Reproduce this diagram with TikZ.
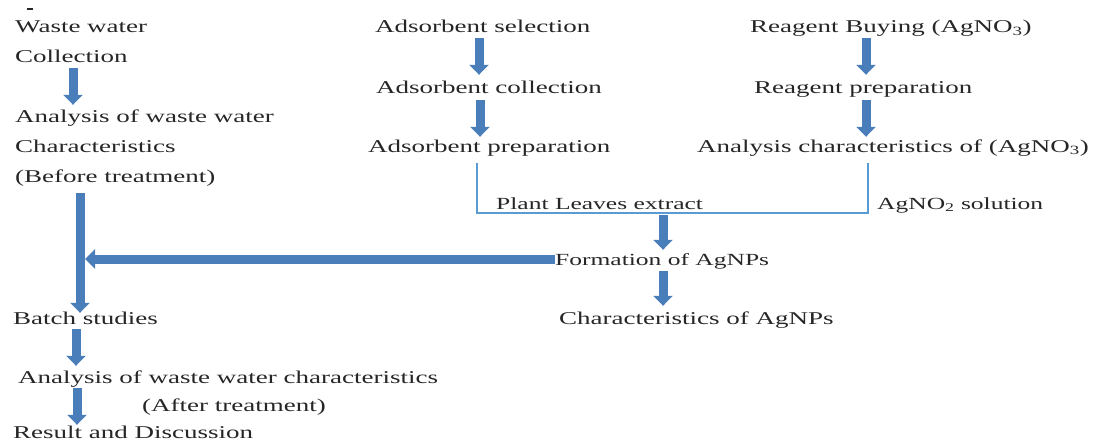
\documentclass[tikz,border=0pt]{standalone}
\usepackage{fontspec}
\setmainfont[FakeStretch=1.5]{Liberation Serif}
\usetikzlibrary{arrows.meta}
\definecolor{arrowblue}{HTML}{4A7EBB}
\definecolor{lineblue}{HTML}{5B9BD5}
\definecolor{txtgray}{HTML}{262626}
\begin{document}
\begin{tikzpicture}[x=1pt,y=-1pt,
  txt/.style={anchor=base west, inner sep=0pt, text=txtgray, font=\fontsize{18}{20}\selectfont, text height=13pt, text depth=4pt},
  lbl/.style={txt, font=\fontsize{17}{19}\selectfont},
  bigarrow/.style={arrowblue, line width=9pt, -{Triangle[width=19pt,length=10pt]}},
  thinline/.style={lineblue, line width=1.8pt}]
\useasboundingbox (0,0) rectangle (1105,441);
\draw[line width=1.5pt, txtgray] (27,9) -- (33,9);
% left column
\node[txt] (ww)   at (15,33)  {Waste water};
\node[txt] (coll) at (15,63)  {Collection};
\node[txt] (ana1) at (15,123) {Analysis of waste water};
\node[txt] (chr)  at (15,152) {Characteristics};
\node[txt] (bef)  at (15,182) {(Before treatment)};
\node[txt] (batch) at (13,324) {Batch studies};
\node[txt] (ana2) at (18,383) {Analysis of waste water characteristics};
\node[txt] (aft)  at (142,411) {(After treatment)};
\node[txt] (res)  at (13,438) {Result and Discussion};
% middle column
\node[txt] (sel)  at (375,33)  {Adsorbent selection};
\node[txt] (acol) at (376,94)  {Adsorbent collection};
\node[txt] (prep) at (368,152) {Adsorbent preparation};
\node[lbl] (plant) at (496,209) {Plant Leaves extract};
\node[lbl] (form) at (555,265) {Formation of AgNPs};
\node[txt] (char) at (559,324) {Characteristics of AgNPs};
% right column
\node[txt] (buy)  at (750,33)  {Reagent Buying (AgNO\textsubscript{3})};
\node[txt] (rprep) at (754,94) {Reagent preparation};
\node[txt] (anaAg) at (697,152) {Analysis characteristics of (AgNO\textsubscript{3})};
\node[lbl] (sol)  at (877,209) {AgNO\textsubscript{2} solution};
% coordinates
\coordinate (merge) at (663,213);
\coordinate (pTop) at (prep.south -| 477,0);
\coordinate (aTop) at (anaAg.south -| 868,0);
\coordinate (join) at (80,259);
% left arrows
\draw[bigarrow, shorten <=1pt, shorten >=5pt] (coll.south -| 73,0) -- (ana1.north -| 73,0);
\draw[bigarrow, shorten <=7pt, shorten >=-2pt] (bef.south -| 80,0) -- (batch.north -| 80,0);
\draw[bigarrow, shorten >=5pt] (form.west |- join) -- (join);
\draw[bigarrow, shorten <=1pt, shorten >=4pt] (batch.south -| 76,0) -- (ana2.north -| 76,0);
\draw[bigarrow, shorten <=1pt, shorten >=0pt] (ana2.south -| 77,0) -- (res.north -| 77,0);
% middle arrows
\draw[bigarrow, shorten <=1pt, shorten >=6pt] (sel.south -| 479,0) -- (acol.north -| 479,0);
\draw[bigarrow, shorten <=2pt, shorten >=2pt] (acol.south -| 480,0) -- (prep.north -| 480,0);
% right arrows
\draw[bigarrow, shorten <=1pt, shorten >=6pt] (buy.south -| 866,0) -- (rprep.north -| 866,0);
\draw[bigarrow, shorten <=2pt, shorten >=2pt] (rprep.south -| 866,0) -- (anaAg.north -| 866,0);
% merge lines
\draw[thinline, shorten <=7pt, shorten >=7pt] (pTop) |- (merge) -| (aTop);
\draw[bigarrow, shorten <=2pt, shorten >=2pt] (merge) -- (merge |- form.north);
\draw[bigarrow, shorten <=2pt, shorten >=5pt] (form.south -| merge) -- (char.north -| merge);
\end{tikzpicture}
\end{document}
